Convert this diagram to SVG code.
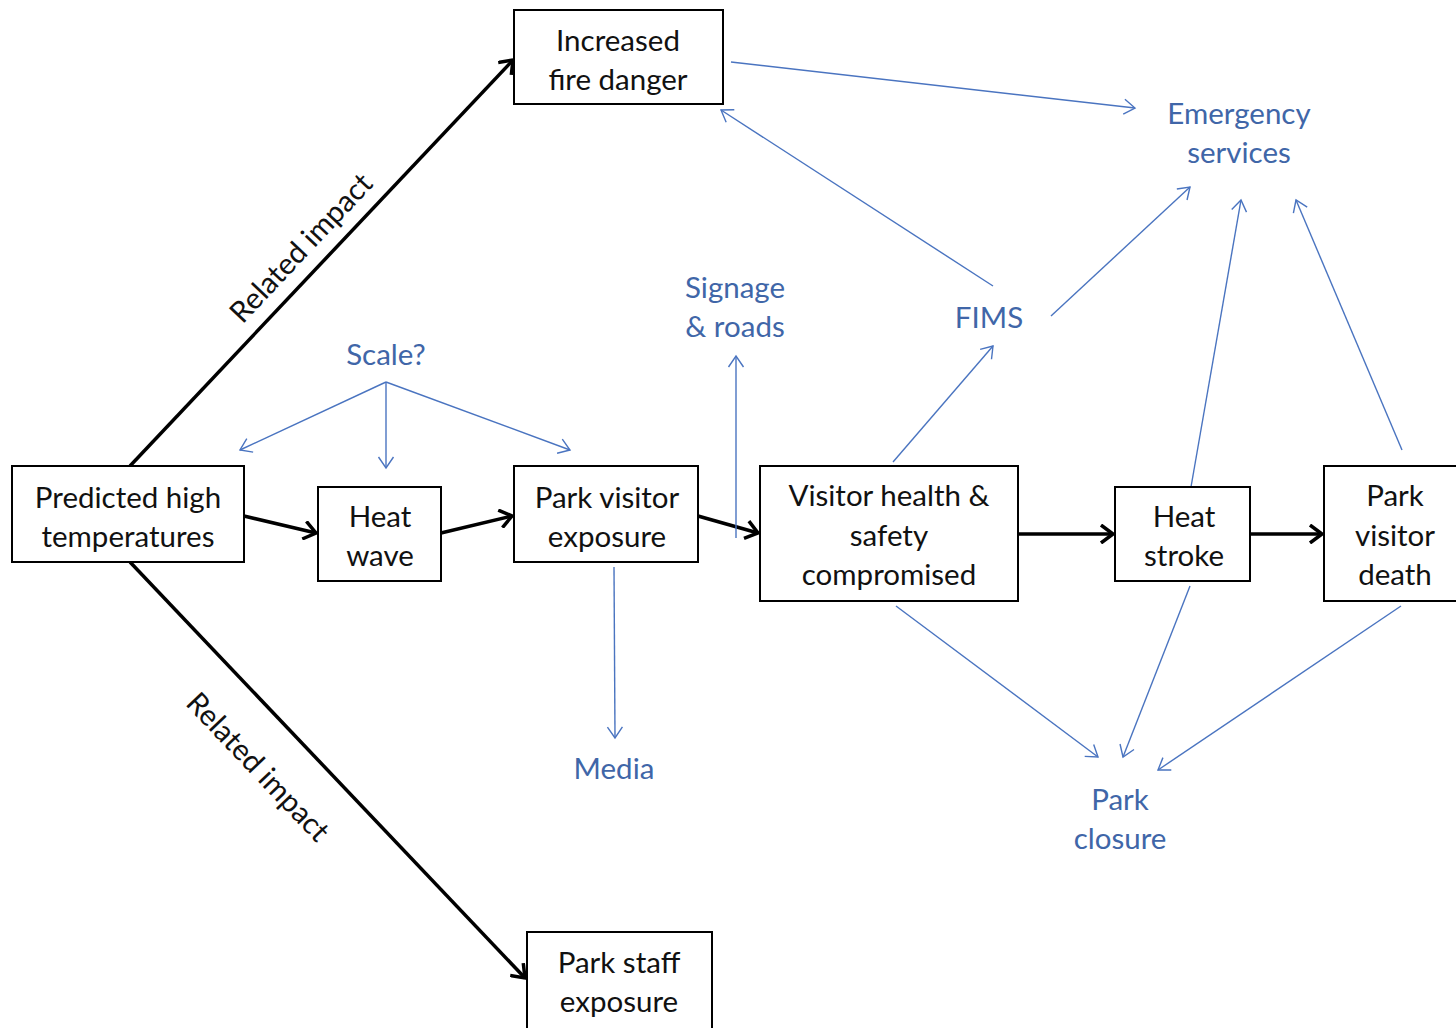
<svg xmlns="http://www.w3.org/2000/svg" width="1456" height="1028" viewBox="0 0 1456 1028">
<style>
.box{fill:#fff;stroke:#000;stroke-width:2}
.t{font-family:Lato,"Open Sans",sans-serif;font-size:29.5px;fill:#111;text-anchor:middle;dominant-baseline:central}
.b{fill:#4066a8}
.k{stroke:#000;stroke-width:3.5;fill:none;marker-end:url(#ak)}
.u{stroke:#4a74c0;stroke-width:1.4;fill:none;marker-end:url(#ab)}
</style>
<defs>
<marker id="ak" markerUnits="userSpaceOnUse" viewBox="-14 -10 16 20" refX="0" refY="0" markerWidth="16" markerHeight="20" orient="auto">
<path d="M-12,-9 L0,0 L-12,9" fill="none" stroke="#000" stroke-width="3.5"/>
</marker>
<marker id="ab" markerUnits="userSpaceOnUse" viewBox="-14 -10 16 20" refX="0" refY="0" markerWidth="16" markerHeight="20" orient="auto">
<path d="M-11,-7.5 L0,0 L-11,7.5" fill="none" stroke="#4a74c0" stroke-width="1.4"/>
</marker>
</defs>
<rect width="1456" height="1028" fill="#fff"/>
<g id="connectors">
<line class="k" x1="244" y1="516" x2="316" y2="533"/>
<line class="k" x1="441" y1="533" x2="512" y2="516"/>
<line class="k" x1="698" y1="516" x2="758" y2="533"/>
<line class="k" x1="1018" y1="534" x2="1113" y2="534"/>
<line class="k" x1="1250" y1="534" x2="1322" y2="534"/>
<line class="k" x1="130" y1="466" x2="513" y2="60"/>
<line class="k" x1="130" y1="562" x2="525" y2="978"/>
<text class="t" transform="translate(300,247) rotate(-46.7)">Related impact</text>
<text class="t" transform="translate(259,766) rotate(46.5)">Related impact</text>
<line class="u" x1="731" y1="62" x2="1135" y2="108"/>
<line class="u" x1="993" y1="286" x2="721" y2="110"/>
<line class="u" x1="1051" y1="316" x2="1190" y2="187"/>
<line class="u" x1="1191" y1="487" x2="1241" y2="200"/>
<line class="u" x1="1402" y1="450" x2="1296" y2="200"/>
<line class="u" x1="893" y1="462" x2="993" y2="346"/>
<line class="u" x1="386" y1="382" x2="240" y2="450"/>
<line class="u" x1="386" y1="382" x2="386" y2="468"/>
<line class="u" x1="386" y1="382" x2="570" y2="450"/>
<line class="u" x1="736" y1="538" x2="736" y2="356"/>
<line class="u" x1="614" y1="567" x2="615" y2="738"/>
<line class="u" x1="896" y1="606" x2="1098" y2="757"/>
<line class="u" x1="1190" y1="586" x2="1123" y2="757"/>
<line class="u" x1="1401" y1="606" x2="1158" y2="770"/>
</g>
<g id="n-predicted"><rect class="box" x="12" y="466" width="232" height="96"/><text class="t" x="128" y="496">Predicted high</text><text class="t" x="128" y="535">temperatures</text></g>
<g id="n-heatwave"><rect class="box" x="318" y="487" width="123" height="94"/><text class="t" x="380" y="515">Heat</text><text class="t" x="380" y="554">wave</text></g>
<g id="n-exposure"><rect class="box" x="514" y="466" width="184" height="96"/><text class="t" x="607" y="496">Park visitor</text><text class="t" x="607" y="535">exposure</text></g>
<g id="n-vhsc"><rect class="box" x="760" y="466" width="258" height="135"/><text class="t" x="889" y="494">Visitor health &amp;</text><text class="t" x="889" y="534">safety</text><text class="t" x="889" y="573">compromised</text></g>
<g id="n-heatstroke"><rect class="box" x="1115" y="487" width="135" height="94"/><text class="t" x="1184" y="515">Heat</text><text class="t" x="1184" y="554">stroke</text></g>
<g id="n-death"><rect class="box" x="1324" y="466" width="140" height="135"/><text class="t" x="1395" y="494">Park</text><text class="t" x="1395" y="534">visitor</text><text class="t" x="1395" y="573">death</text></g>
<g id="n-fire"><rect class="box" x="514" y="10" width="209" height="94"/><text class="t" x="618" y="39">Increased</text><text class="t" x="618" y="78">fire danger</text></g>
<g id="n-staff"><rect class="box" x="527" y="932" width="185" height="100"/><text class="t" x="619" y="961">Park staff</text><text class="t" x="619" y="1000">exposure</text></g>
<g id="n-emergency"><text class="t b" x="1239" y="112">Emergency</text><text class="t b" x="1239" y="151">services</text></g>
<g id="n-signage"><text class="t b" x="735" y="286">Signage</text><text class="t b" x="735" y="325">&amp; roads</text></g>
<g id="n-fims"><text class="t b" x="989" y="316">FIMS</text></g>
<g id="n-scale"><text class="t b" x="386" y="353">Scale?</text></g>
<g id="n-media"><text class="t b" x="614" y="767">Media</text></g>
<g id="n-closure"><text class="t b" x="1120" y="798">Park</text><text class="t b" x="1120" y="837">closure</text></g>
</svg>
